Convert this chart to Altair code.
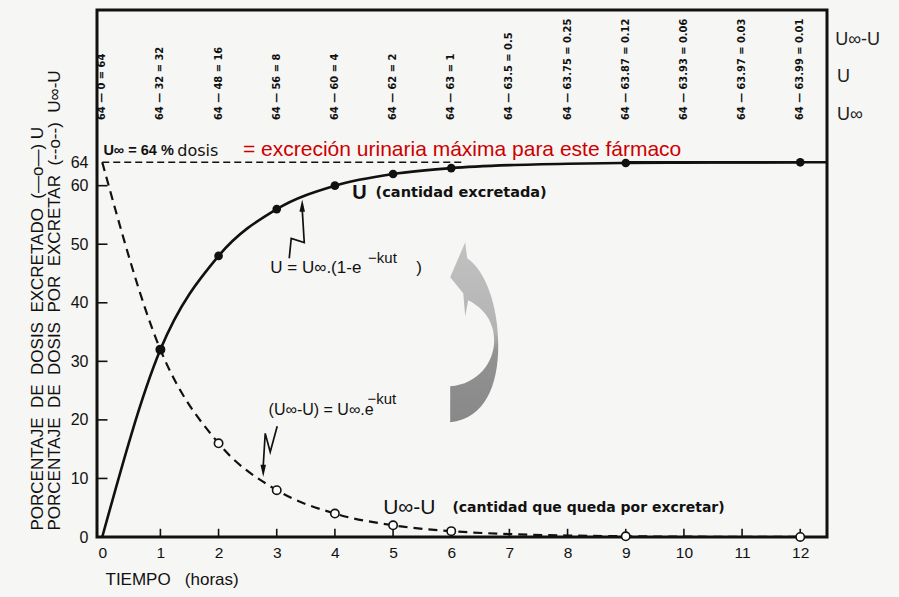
import altair as alt
import pandas as pd

# --- data -------------------------------------------------------------
hours = list(range(13))
excreted = [0, 32, 48, 56, 60, 62, 63, 63.5, 63.75, 63.87, 63.93, 63.97, 63.99]
remaining = [64, 32, 16, 8, 4, 2, 1, 0.5, 0.25, 0.12, 0.06, 0.03, 0.01]
marked_hours = [1, 2, 3, 4, 5, 6, 9, 12]
y_ticks = [0, 10, 20, 30, 40, 50, 60, 64]
u_inf = 64


def fmt(v):
    return f"{v:g}"


top_labels = [f"{fmt(u_inf)} — {fmt(u)} = {fmt(r)}" for u, r in zip(excreted, remaining)]

FONT = "Liberation Sans, Arial, Helvetica, sans-serif"
WIDE = "DejaVu Sans, Verdana, sans-serif"
NARROW = "DejaVu Sans Condensed, Liberation Sans Narrow, sans-serif"
INK = "#111111"
SP = "\u00a0\u00a0"  # wide word gap

X_SCALE = alt.Scale(domain=[-0.09, 12.46], nice=False, zero=False)
Y_SCALE = alt.Scale(domain=[0, 90], nice=False, zero=False)

x_axis = alt.Axis(
    values=hours, ticks=False, domain=False, grid=False, labelFlush=False,
    labelFont=FONT, labelFontSize=15.5, labelColor=INK, labelPadding=8,
    title="TIEMPO\u00a0\u00a0\u00a0(horas)", titleFont=FONT, titleFontSize=17,
    titleFontWeight="normal", titleColor=INK, titleX=8, titleY=47,
    titleAlign="left", titleBaseline="alphabetic",
)
y_axis = alt.Axis(
    values=y_ticks, ticks=False, domain=False, grid=False, labelFlush=False, labelOverlap=False,
    labelFont=FONT, labelFontSize=16, labelColor=INK, labelPadding=9,
    title=[f"PORCENTAJE{SP}DE{SP}DOSIS{SP}EXCRETADO{SP}(—o—) U",
           f"PORCENTAJE{SP}DE{SP}DOSIS{SP}POR{SP}EXCRETAR{SP}(--o--){SP}U∞-U"],
    titleFont=FONT, titleFontSize=17, titleFontWeight="normal", titleColor=INK,
    titleAngle=270, titleX=-68, titleY=520, titleAlign="left", titleBaseline="top",
    titleLineHeight=17,
)


def X(field="t"):
    return alt.X(f"{field}:Q", scale=X_SCALE, axis=x_axis)


def Y(field="v"):
    return alt.Y(f"{field}:Q", scale=Y_SCALE, axis=y_axis)


u_df = pd.DataFrame({"t": hours, "v": excreted})
r_df = pd.DataFrame({"t": hours, "v": remaining})
u_pts = u_df[u_df.t.isin(marked_hours)]
r_pts = r_df[r_df.t.isin(marked_hours)]

# --- curves and markers ------------------------------------------------
u_line = alt.Chart(u_df).mark_line(color=INK, strokeWidth=2.6, interpolate="monotone").encode(x=X(), y=Y())
r_line = alt.Chart(r_df).mark_line(color=INK, strokeWidth=2.2, strokeDash=[9, 6],
                                   interpolate="monotone").encode(x=X(), y=Y())
r_marks = alt.Chart(r_pts).mark_point(shape="circle", size=70, filled=True, fill="white",
                                      stroke=INK, strokeWidth=1.6, opacity=1).encode(x=X(), y=Y())
u_marks = alt.Chart(u_pts).mark_point(shape="circle", size=75, filled=True, color=INK,
                                      opacity=1).encode(x=X(), y=Y())

# asymptote U∞
asym_dash = alt.Chart(pd.DataFrame({"t": [0], "t2": [6.2], "v": [u_inf]})).mark_rule(
    color=INK, strokeWidth=1.3, strokeDash=[7, 4]).encode(x=X(), x2="t2:Q", y=Y())
asym_solid = alt.Chart(pd.DataFrame({"t": [9], "t2": [12.46], "v": [u_inf]})).mark_rule(
    color=INK, strokeWidth=2.4).encode(x=X(), x2="t2:Q", y=Y())

# inward tick marks
x_ticks = alt.Chart(pd.DataFrame({"t": hours[1:], "v": 0, "v2": 1.4})).mark_rule(
    color=INK, strokeWidth=1.6).encode(x=X(), y=Y(), y2="v2:Q")
y_tick_df = pd.DataFrame({"v": y_ticks[1:-1], "t": -0.09, "t2": 0.09})
y_ticks_marks = alt.Chart(y_tick_df).mark_rule(color=INK, strokeWidth=1.6).encode(
    x=X(), x2="t2:Q", y=Y())

# --- rotated subtraction table along the top ---------------------------
top_df = pd.DataFrame({"t": hours, "v": 71.2, "label": top_labels})
top_text = alt.Chart(top_df).mark_text(
    angle=270, align="left", baseline="middle", font=NARROW, fontWeight="bold",
    fontSize=11, color=INK).encode(x=X(), y=Y(), text="label:N")

side_df = pd.DataFrame({"t": [12.6, 12.63, 12.63], "v": [84.8, 78.5, 72.0],
                        "label": ["U∞-U", "U", "U∞"]})
side_text = alt.Chart(side_df).mark_text(
    align="left", baseline="middle", font=FONT, fontSize=18, color="#222").encode(
    x=X(), y=Y(), text="label:N")


def note(rows, **style):
    df = pd.DataFrame(rows, columns=["t", "v", "label"])
    base = dict(align="left", baseline="middle", font=FONT, color=INK)
    base.update(style)
    return alt.Chart(df).mark_text(**base).encode(x=X(), y=Y(), text="label:N")


notes = [
    note([(0.02, 66.0, "U∞ = 64 %")], fontSize=14.5, fontWeight="bold"),
    note([(1.29, 66.0, "dosis")], font=WIDE, fontSize=16),
    note([(2.42, 66.1, "= excreción urinaria máxima para este fármaco")], fontSize=21,
         color="#cc0000"),
    note([(4.30, 58.7, "U")], fontSize=20, fontWeight="bold"),
    note([(4.70, 58.7, "(cantidad excretada)")], font=WIDE, fontSize=14.5, fontWeight="bold"),
    note([(2.89, 45.9, "U = U∞.(1-e"), (5.40, 45.9, ")")], fontSize=17),
    note([(4.57, 47.7, "−kut")], fontSize=15),
    note([(2.86, 21.7, "(U∞-U) = U∞.e")], fontSize=16),
    note([(4.56, 23.6, "−kut")], fontSize=15),
    note([(4.83, 4.95, "U∞-U")], fontSize=21),
    note([(6.02, 4.95, "(cantidad que queda por excretar)")], font=WIDE, fontSize=14,
         fontWeight="bold"),
]

# --- zigzag pointers ---------------------------------------------------
zig_df = pd.DataFrame({
    "g": ["a"] * 4 + ["b"] * 4,
    "i": [0, 1, 2, 3] * 2,
    "t": [3.215, 3.249, 3.473, 3.438, 3.008, 2.888, 2.802, 2.768],
    "v": [47.6, 51.0, 50.3, 56.0, 18.9, 14.5, 17.7, 12.2],
})
zig = alt.Chart(zig_df).mark_line(color=INK, strokeWidth=1.7).encode(
    x=X(), y=Y(), detail="g:N", order="i:Q")
head_up = alt.Chart(pd.DataFrame({"t": [3.438], "v": [56.6]})).mark_point(
    shape="M0,-1L0.45,1L-0.45,1Z", size=150, filled=True, color=INK, opacity=1).encode(x=X(), y=Y())
head_down = alt.Chart(pd.DataFrame({"t": [2.768], "v": [11.3]})).mark_point(
    shape="M0,1L0.45,-1L-0.45,-1Z", size=150, filled=True, color=INK, opacity=1).encode(x=X(), y=Y())

# --- curved grey arrow (outline in unit-square coordinates) -------------
arrow_path = (
    "M-0.100,-1.000 L-0.267,-0.611 L-0.122,-0.433 L-0.100,-0.178 L-0.067,-0.356 "
    "C0.111,-0.267 0.222,-0.111 0.222,0.089 "
    "C0.222,0.333 0.044,0.578 -0.267,0.600 "
    "L-0.267,1.000 "
    "C0.122,0.956 0.267,0.589 0.267,0.144 "
    "C0.267,-0.300 0.122,-0.689 -0.078,-0.822 Z"
)
arrow_fill = {
    "gradient": "linear", "x1": 0, "y1": 0, "x2": 0, "y2": 1,
    "stops": [
        {"offset": 0, "color": "#c2c2c2"},
        {"offset": 0.5, "color": "#b3b3b3"},
        {"offset": 0.6, "color": "#939393"},
        {"offset": 1, "color": "#888888"},
    ],
}
big_arrow = alt.Chart(pd.DataFrame({"t": [6.395], "v": [34.98]})).mark_point(
    shape=arrow_path, size=32400, filled=True, fill=arrow_fill, strokeWidth=0, opacity=1
).encode(x=X(), y=Y())

chart = alt.layer(
    big_arrow, asym_dash, asym_solid, x_ticks, y_ticks_marks,
    r_line, u_line, zig, head_up, head_down, r_marks, u_marks,
    top_text, side_text, *notes,
).properties(
    width=730, height=527,
    autosize=alt.AutoSizeParams(type="none"),
    padding={"left": 97, "top": 10, "right": 72, "bottom": 60},
    background="#f6f6f4",
).configure_view(stroke=INK, strokeWidth=3)

chart.save("out.html", embed_options={"renderer": "svg", "actions": False})
